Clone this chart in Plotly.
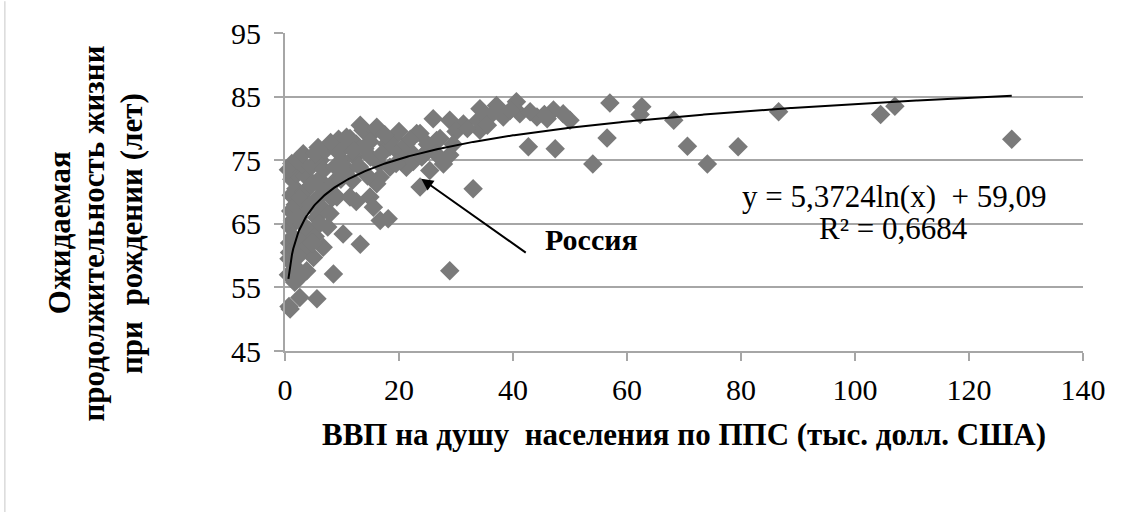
import numpy as np
import plotly.graph_objects as go

# GDP per capita PPP (thousand USD) and life expectancy (years)
gdp = [
    0.9, 2.6, 5.6, 8.5, 10.2, 13.2, 6.7, 28.9,
    0.6, 0.7, 0.8, 0.9, 1.0, 1.1, 1.2, 0.8, 1.3, 1.5, 1.6, 1.4, 1.8, 1.9, 2.0, 1.7, 0.6, 0.7, 1.2,
    2.2, 2.5, 2.8, 3.0, 3.2, 3.4, 3.6, 3.0, 2.4, 2.7, 3.8, 4.0, 4.2, 4.4, 4.5, 4.6, 2.6, 2.1, 3.2,
    5.0, 5.3, 5.5, 5.7, 6.0, 6.2, 5.2, 6.5, 6.7, 6.1, 6.8, 7.0, 4.8, 5.8,
    7.9, 8.2, 8.5, 8.8, 9.1, 9.4, 9.1, 9.8, 10.0, 10.3, 7.5, 8.0,
    11.0, 11.4, 11.8, 12.2, 12.5, 11.4, 13.0, 13.2, 10.8, 12.5,
    13.7, 15.8, 14.9, 16.1, 17.8, 15.0, 16.5, 18.4, 17.0, 14.9, 16.1, 15.5, 16.7, 18.1, 16.7, 18.4, 14.5,
    19.9, 21.3, 23.1, 21.9, 21.3, 25.4, 27.8, 28.9, 26.6, 27.2, 23.7, 26.0, 28.9, 31.3, 23.7, 20.5, 22.5,
    24.5, 25.0, 30.0, 22.0, 19.0, 20.0, 12.0, 14.0, 17.5, 19.5, 24.0, 26.5, 29.5,
    33.0, 33.9, 34.2, 37.1, 38.3, 40.6, 41.2, 44.2, 47.1, 48.8, 50.0, 34.2, 42.7, 47.4, 36.0, 39.5,
    45.5, 46.0, 43.0, 35.5, 32.0,
    54.0, 56.5, 57.0, 62.3, 62.6, 68.2, 70.6, 74.1, 79.5, 86.6, 104.5, 107.0, 127.5,
]
life = [
    51.6, 53.4, 53.2, 57.1, 63.4, 61.8, 61.3, 57.6,
    57.0, 59.5, 62.0, 64.5, 67.0, 69.5, 72.0, 60.5, 65.5, 58.5, 61.0, 63.0, 68.0, 70.5, 73.0, 55.8, 73.5, 52.0, 74.5,
    57.5, 60.0, 62.5, 65.0, 67.5, 70.0, 72.5, 74.5, 66.0, 69.0, 57.6, 61.5, 64.0, 68.0, 71.0, 74.0, 56.6, 75.0, 76.0,
    59.7, 63.0, 66.0, 69.0, 72.0, 75.0, 76.0, 67.5, 70.5, 65.0, 73.5, 76.5, 62.0, 77.0,
    66.6, 69.0, 71.5, 74.0, 76.5, 78.3, 69.2, 72.0, 75.0, 77.0, 64.5, 77.8,
    73.5, 69.2, 71.8, 75.5, 77.5, 78.4, 74.0, 80.5, 78.6, 68.5,
    79.7, 79.7, 77.9, 80.2, 77.6, 75.5, 74.5, 77.1, 76.0, 69.2, 71.3, 67.6, 65.5, 65.8, 72.3, 73.9, 72.5,
    76.3, 77.6, 79.2, 76.5, 73.9, 73.4, 74.4, 75.8, 78.1, 78.4, 79.2, 81.5, 81.3, 80.7, 70.8, 75.0, 74.8,
    76.0, 77.5, 79.5, 78.3, 78.5, 79.5, 76.5, 76.8, 79.0, 74.5, 75.5, 76.0, 77.5,
    70.5, 81.3, 83.1, 83.6, 81.8, 84.2, 82.3, 81.8, 82.9, 82.3, 81.3, 79.7, 77.1, 76.8, 82.0, 82.8,
    82.2, 81.5, 82.6, 80.5, 80.0,
    74.4, 78.5, 84.0, 82.2, 83.4, 81.3, 77.2, 74.4, 77.1, 82.6, 82.2, 83.5, 78.3,
]

# Logarithmic trend line coefficients (from chart label)
coef_a = 5.3724
coef_b = 59.09
eq_text = "y = 5,3724ln(x)  + 59,09"
r2_text = "R² = 0,6684"

x_ticks = [0, 20, 40, 60, 80, 100, 120, 140]
y_ticks = [45, 55, 65, 75, 85, 95]

x_title = "ВВП на душу  населения по ППС (тыс. долл. США)"
y_title_lines = ["Ожидаемая", "продолжительность жизни", "при  рождении (лет)"]
y_title_pos = [-0.283, -0.240, -0.193]

# Russia point
russia_x, russia_y = 23.7, 70.8

serif = "Liberation Serif, Times New Roman, serif"
grid_col = "#a6a6a6"

trend_x = np.linspace(min(gdp), max(gdp), 600)
trend_y = coef_a * np.log(trend_x) + coef_b

fig = go.Figure()
fig.add_trace(go.Scatter(
    x=gdp, y=life, mode="markers",
    marker=dict(symbol="diamond", size=15, color="#7a7a7a", line=dict(width=0)),
    cliponaxis=False, showlegend=False, hoverinfo="x+y",
))
fig.add_trace(go.Scatter(
    x=trend_x, y=trend_y, mode="lines",
    line=dict(color="black", width=2), showlegend=False, hoverinfo="skip",
))

annotations = [
    dict(text="<b>" + line + "</b>", xref="paper", yref="paper",
         x=xp, y=0.371, xanchor="center", yanchor="middle", textangle=-90, showarrow=False,
         font=dict(family=serif, size=31, color="black"))
    for line, xp in zip(y_title_lines, y_title_pos)
]
annotations += [
    dict(text=eq_text, x=106.8, y=69.3, xref="x", yref="y", showarrow=False,
         font=dict(family=serif, size=31, color="black")),
    dict(text=r2_text, x=106.8, y=64.2, xref="x", yref="y", showarrow=False,
         font=dict(family=serif, size=31, color="black")),
    dict(text="<b>Россия</b>", x=53.7, y=62.6, xref="x", yref="y", showarrow=False,
         font=dict(family=serif, size=30, color="black")),
    dict(x=russia_x + 0.2, y=russia_y + 1.3, ax=42.5, ay=60.3,
         xref="x", yref="y", axref="x", ayref="y", text="",
         showarrow=True, arrowhead=2, arrowsize=1.2, arrowwidth=2, arrowcolor="black"),
]

fig.update_layout(
    width=1126, height=512,
    margin=dict(l=285, r=43, t=33, b=161),
    paper_bgcolor="white", plot_bgcolor="white",
    font=dict(family=serif, color="black", size=30),
    xaxis=dict(
        range=[0, 140], tickvals=x_ticks, showgrid=False, zeroline=False,
        showline=True, linecolor=grid_col, linewidth=2,
        ticks="outside", ticklen=8, tickwidth=2, tickcolor=grid_col,
        tickfont=dict(family=serif, size=30, color="black"), ticklabelstandoff=3,
        title=dict(text="<b>" + x_title + "</b>", font=dict(family=serif, size=31, color="black"),
                   standoff=18),
    ),
    yaxis=dict(
        range=[45, 95], tickvals=y_ticks, showgrid=True, gridcolor=grid_col, gridwidth=2,
        zeroline=False, showline=True, linecolor=grid_col, linewidth=2,
        ticks="outside", ticklen=9, tickwidth=2, tickcolor=grid_col,
        tickfont=dict(family=serif, size=30, color="black"), ticklabelstandoff=7,
    ),
    annotations=annotations,
    shapes=[
        dict(type="line", xref="paper", yref="paper", x0=-0.351, x1=-0.351, y0=1.1, y1=-0.52,
             line=dict(color="#c8c8c8", width=1)),
    ],
)

fig.write_html("out.html")
